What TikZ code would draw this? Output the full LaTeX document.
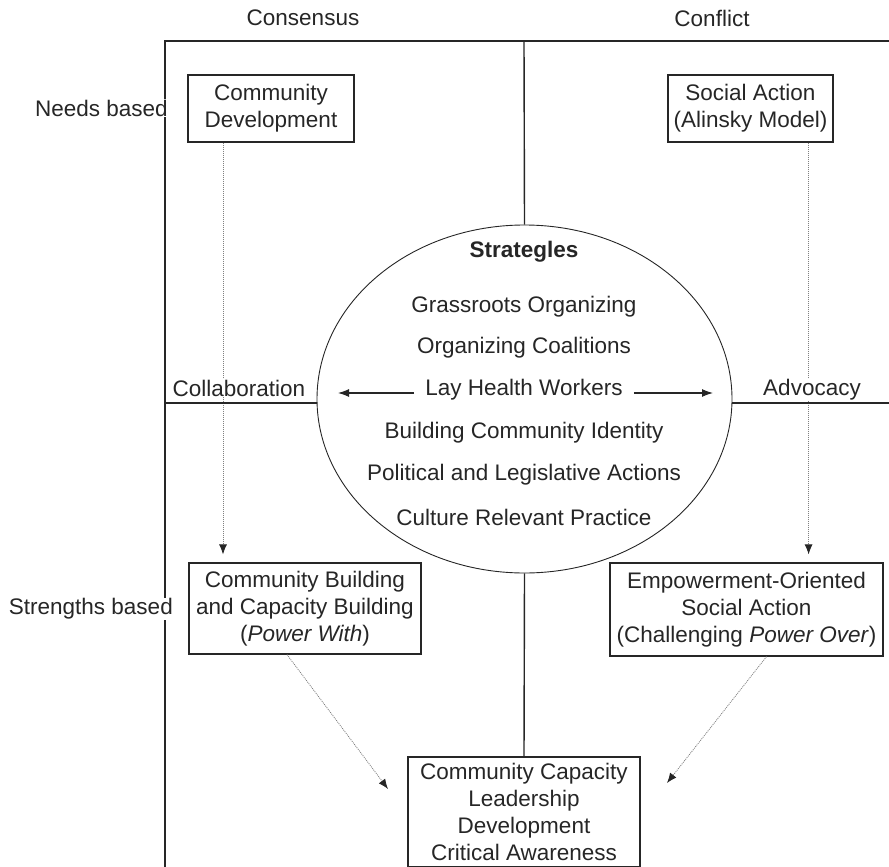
\documentclass[tikz,border=0pt]{standalone}
\usepackage{fontspec}
\setmainfont{Liberation Sans}
\usetikzlibrary{arrows.meta,shapes.geometric}
\definecolor{ink}{HTML}{262626}
\begin{document}
\begin{tikzpicture}[x=1pt,y=-1pt,
  every node/.style={font=\fontsize{22.5}{27}\selectfont, text=ink},
  frame/.style={draw=ink, line width=1.4pt},
  boxnode/.style={draw=ink, line width=1.2pt, align=center, inner sep=0pt},
  lbl/.style={fill=white, inner xsep=3pt, inner ysep=1pt},
  darr/.style={draw=gray, line width=0.8pt, dash pattern=on 1pt off 1pt, -{Latex[length=10pt,width=8pt,color=ink]}, shorten >=8pt},
  sarr/.style={draw=ink, line width=1.1pt, -{Latex[length=11pt,width=8pt]}}]
\useasboundingbox (0,0) rectangle (889,867);

% header labels
\node (cons) at (303,18) {Consensus};
\node (conf) at (712,18) {Conflict};

% frame
\coordinate (tl) at (165,41);
\coordinate (tr) at (889,41);
\coordinate (bl) at (165,867);
\coordinate (tc) at (524,41);
\coordinate (hl) at (165,403);
\coordinate (hr) at (889,403);
\draw[frame] (tr) -- (tl) -- (bl);

% boxes
\node[boxnode, minimum width=166, minimum height=67] (cd) at (271,108.5) {Community\\Development};
\node[boxnode, minimum width=165, minimum height=67] (sa) at (750.5,108.5) {Social Action\\(Alinsky Model)};
\node[boxnode, minimum width=232, minimum height=91] (cb) at (305,608.5) {Community Building\\and Capacity Building\\(\textit{Power With})};
\node[boxnode, minimum width=273, minimum height=93] (eo) at (746.5,609.5) {Empowerment-Oriented\\Social Action\\(Challenging \textit{Power Over})};
\node[boxnode, minimum width=232, minimum height=110] (cap) at (524,812) {Community Capacity\\Leadership\\Development\\Critical Awareness};

% ellipse
\node[ellipse, draw=ink, line width=0.9pt, minimum width=415, minimum height=348, inner sep=0pt] (strat) at (524.5,399) {};
\draw[frame] (tc) -- (strat.north);
\draw[frame] (strat.south) -- (cap.north);

\node[font=\fontsize{22.5}{27}\selectfont\bfseries] (s0) at (524,252) {Strategles};
\node (s1) at (524,307) {Grassroots Organizing};
\node (s2) at (524,348) {Organizing Coalitions};
\node[inner xsep=11pt] (s3) at (524,390) {Lay Health Workers};
\node (s4) at (524,433) {Building Community Identity};
\node (s5) at (524,475) {Political and Legislative Actions};
\node (s6) at (524,517) {Culture Relevant Practice};

\coordinate (la) at (338,393);
\coordinate (ra) at (713,393);
\draw[sarr] (s3.west |- la) -- (la);
\draw[sarr] (s3.east |- ra) -- (ra);

% dotted arrows
\draw[darr] ([xshift=-48pt]cd.south) -- ([xshift=-48pt]cd.south |- cb.north);
\draw[darr] ([xshift=-25pt]sa.south east) -- ([xshift=-25pt]sa.south east |- eo.north);
\coordinate (t1) at (388,789);
\coordinate (t2) at (667,783);
\draw[darr, shorten >=0pt] ([xshift=-18pt]cb.south) -- (t1);
\draw[darr, shorten >=0pt] ([xshift=20pt]eo.south) -- (t2);

% side labels
\node[lbl, anchor=east] (nb) at (171,108) {Needs based};
\node[lbl, anchor=east] (sb) at (176,609) {Strengths based};
\node[lbl] (col) at (239,388) {Collaboration};
\node[lbl] (adv) at (812,390) {Advocacy};

% horizontal lines
\draw[frame] (hl) -- (hl -| strat.west);
\draw[frame] (hr -| strat.east) -- (hr);
\end{tikzpicture}
\end{document}
